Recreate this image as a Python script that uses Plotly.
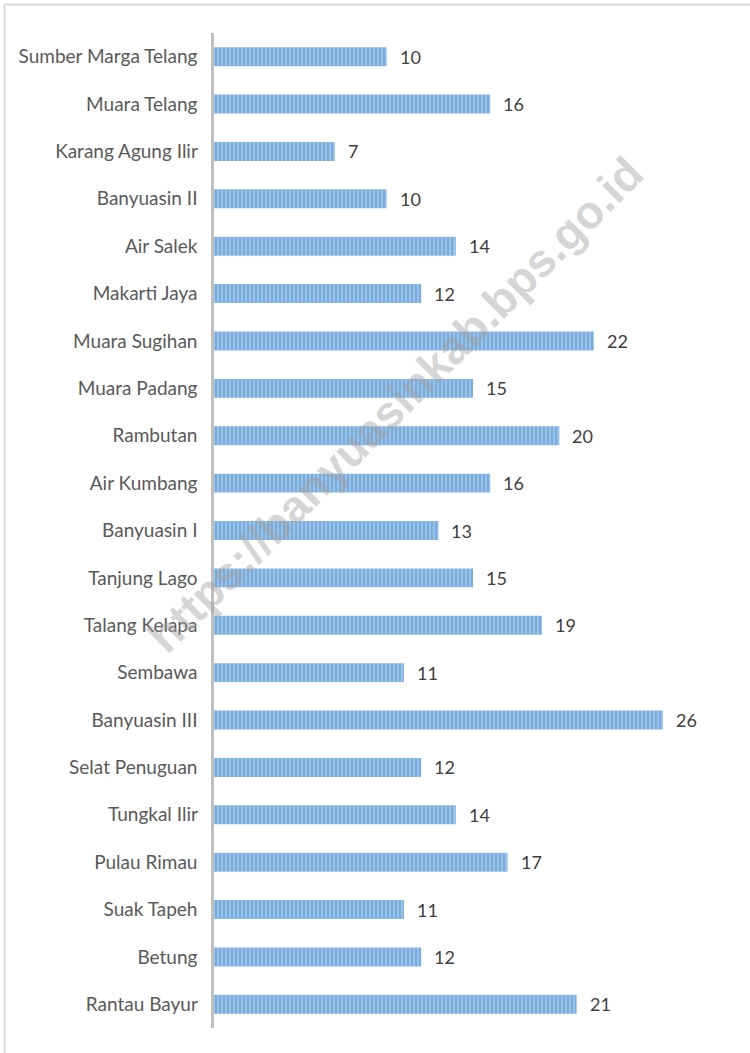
import plotly.graph_objects as go

categories = ["Rantau Bayur", "Betung", "Suak Tapeh", "Pulau Rimau", "Tungkal Ilir",
              "Selat Penuguan", "Banyuasin III", "Sembawa", "Talang Kelapa", "Tanjung Lago",
              "Banyuasin I", "Air Kumbang", "Rambutan", "Muara Padang", "Muara Sugihan",
              "Makarti Jaya", "Air Salek", "Banyuasin II", "Karang Agung Ilir", "Muara Telang",
              "Sumber Marga Telang"]
values = [21, 12, 11, 17, 14, 12, 26, 11, 19, 15, 13, 16, 20, 15, 22, 12, 14, 10, 7, 16, 10]

W, H = 750, 1053
L, R, T, B = 214, 18, 33, 25
FONT = "Lato"

fig = go.Figure()
fig.add_trace(go.Bar(
    y=categories, x=values, orientation="h", width=0.4,
    marker=dict(color="#9DC3E6", line=dict(width=0),
                pattern=dict(shape="|", fgcolor="#4F8FD0", bgcolor="#A2C7EA",
                             size=4, solidity=0.6, fillmode="overlay")),
    hoverinfo="skip",
))

annotations = []
for c, v in zip(categories, values):
    annotations.append(dict(x=v, y=c, xref="x", yref="y", text=str(v), showarrow=False,
                            xanchor="left", xshift=11,
                            font=dict(family=FONT, size=18, color="#404040")))

pw = W - L - R
ph = H - T - B
def px(x):
    return (x - L) / pw
def py(y):
    return 1 - (y - T) / ph

annotations.append(dict(x=px(395), y=py(405), xref="paper", yref="paper",
                        text="<b>https://banyuasinkab.bps.go.id</b>", showarrow=False,
                        textangle=-45,
                        font=dict(family="Liberation Sans", size=46, color="rgba(160,160,160,0.45)"),
                        xanchor="center", yanchor="middle"))

shapes = [
    dict(type="line", xref="paper", yref="paper", x0=px(4), x1=px(751), y0=py(4.5), y1=py(4.5),
         line=dict(color="#D9D9D9", width=2)),
    dict(type="line", xref="paper", yref="paper", x0=px(4.5), x1=px(4.5), y0=py(4), y1=py(1060),
         line=dict(color="#D9D9D9", width=2)),
]

fig.update_layout(
    width=W, height=H,
    margin=dict(l=L, r=R, t=T, b=B),
    paper_bgcolor="white", plot_bgcolor="white",
    showlegend=False,
    bargap=0.6,
    xaxis=dict(range=[0, 30], showgrid=False, showticklabels=False, zeroline=False,
               showline=False, ticks=""),
    yaxis=dict(categoryorder="array", categoryarray=categories, showgrid=False,
               showline=True, linecolor="#BFBFBF", linewidth=3, ticks="",
               ticksuffix="  ", tickfont=dict(family=FONT, size=19, color="#595959"),
               automargin=False),
    annotations=annotations,
    shapes=shapes,
)

fig.write_html("out.html", config={"displayModeBar": False},
               post_script="document.body.style.margin='0';document.body.style.padding='0';")
